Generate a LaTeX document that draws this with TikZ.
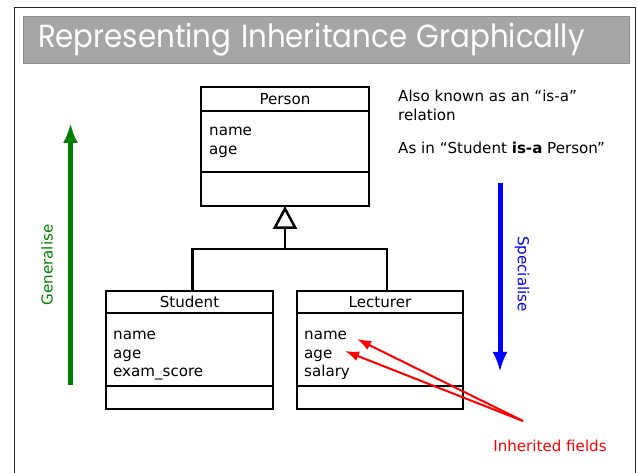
\documentclass[tikz,border=0pt]{standalone}
\usepackage{fontspec}
\setmainfont{DejaVu Sans}
\newfontfamily\slidetitlefont{Poppins}
\usetikzlibrary{arrows.meta,positioning,calc}
\definecolor{SlideGrey}{HTML}{A6A6A6}
\definecolor{GenGreen}{HTML}{008000}
\definecolor{SpecBlue}{HTML}{0000FF}
\definecolor{InhRed}{HTML}{FF0000}
\newcommand\umlfont{\fontsize{15.1}{18.5}\selectfont}
\tikzset{
  cls/.style={draw=black,line width=2.5pt,outer sep=0pt,inner sep=0pt,fill=white},
  clshead/.style={cls,minimum width=168pt,minimum height=22pt,font=\umlfont},
  clsattr/.style={cls,minimum width=168pt,minimum height=73pt},
  clsops/.style={cls,minimum width=168pt,minimum height=23pt},
  fields/.style={inner sep=0pt,align=left,font=\umlfont,anchor=north west},
  note/.style={inner sep=0pt,align=left,font=\umlfont},
  direction/.style={line width=5pt,-{Latex[length=20pt,width=15pt]}},
  inherits/.style={line width=2.5pt,-{Triangle[open,length=23pt,width=24pt]}},
  inhlink/.style={draw=InhRed,line width=2pt,-{Latex[length=14pt,width=10pt]}}
}
\begin{document}
\begin{tikzpicture}[x=1pt,y=-1pt]
  \clip (0,0) rectangle (638,473);
  % slide frame and title bar
  \draw[black!85,line width=1.3pt] (14.5,7.5) rectangle (635.5,490);
  \node[fill=SlideGrey,draw=black!45,line width=0.6pt,minimum width=606pt,minimum height=47pt,
    text width=576pt,inner xsep=15pt,align=left,text=white,
    font=\slidetitlefont\fontsize{32}{34}\selectfont] (title) at (326,40)
    {\scalebox{0.915}[1]{Representing Inheritance Graphically}};

  % class boxes
  \node[clshead,minimum height=24pt] (person) at (285,99) {Person};
  \node[clsattr,minimum height=61pt,below=0pt of person] (person-attr) {};
  \node[clsops,minimum height=34pt,below=0pt of person-attr] (person-ops) {};
  \node[fields] (person-fields) at ([shift={(8,16)}]person-attr.north west) {name\\age};

  \node[clshead,minimum width=167pt] (student) at (189.5,302) {Student};
  \node[clsattr,minimum width=167pt,below=0pt of student] (student-attr) {};
  \node[clsops,minimum width=167pt,below=0pt of student-attr] (student-ops) {};
  \node[fields] (student-fields) at ([shift={(7,18)}]student-attr.north west) {name\\age\\exam\_score};

  \node[clshead,minimum width=166pt] (lecturer) at (380,302) {Lecturer};
  \node[clsattr,minimum width=166pt,below=0pt of lecturer] (lecturer-attr) {};
  \node[clsops,minimum width=166pt,below=0pt of lecturer-attr] (lecturer-ops) {};
  \node[fields] (lecturer-fields) at ([shift={(7,18)}]lecturer-attr.north west) {name\\age\\salary};

  % generalisation
  \coordinate (join) at (285,249);
  \draw[line width=2.5pt] ([xshift=3pt]student.north) |- (join) -| ([xshift=7pt]lecturer.north);
  \draw[inherits] (join) -- (person-ops.south);

  % notes
  \node[note,anchor=north west] (aka) at (398,90) {Also known as an “is-a”\\relation};
  \node[note,anchor=north west] (asin) at (398,142) {As in “Student \textbf{is-a} Person”};

  % direction arrows
  \coordinate (gen-from) at (70.5,385);
  \coordinate (gen-to) at (70.5,123);
  \draw[direction,GenGreen] (gen-from) -- (gen-to);
  \node[font=\umlfont,text=GenGreen,rotate=90] (gen) at (47,265) {Generalise};

  \coordinate (spec-from) at (500,183);
  \coordinate (spec-to) at (500,372);
  \draw[direction,SpecBlue] (spec-from) -- (spec-to);
  \node[font=\umlfont,text=SpecBlue,rotate=-90] (spec) at (522,274) {Specialise};

  % inherited fields
  \node[font=\umlfont,text=InhRed] (inherited) at (550,446) {Inherited fields};
  \coordinate (fork) at (523,421);
  \draw[inhlink] (fork) -- ([shift={(53,8)}]lecturer-fields.north west);
  \draw[inhlink] (fork) -- ([shift={(41,20)}]lecturer-fields.north west);
\end{tikzpicture}
\end{document}
